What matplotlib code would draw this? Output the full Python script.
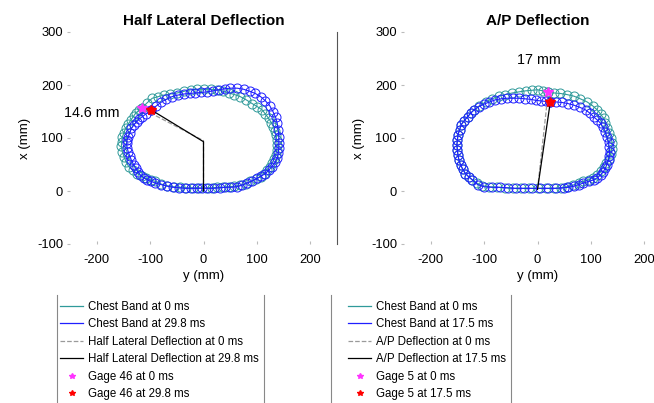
import matplotlib; matplotlib.use('Agg')
import matplotlib.pyplot as plt
from matplotlib.lines import Line2D
import numpy as np

plt.rcParams.update({'font.family': ['Liberation Sans', 'DejaVu Sans'], 'font.size': 8.3,
                     'axes.unicode_minus': False})

TEAL, BLUE, GRAYD, MAG, RED = '#2f9a9a', '#1f1fff', '#9a9a9a', '#ff33ff', '#ff0000'

# ── chest band contours, (y, x) in mm ────────────────────────────────────────
hl_band0 = [(-116,156), (-106,166), (-96,175), (-85,178), (-74,181), (-62,183), (-49,185),
            (-37,188), (-24,191), (-12,192), (1,192), (14,192), (26,191), (37,188), (47,185),
            (58,182), (69,178), (80,172), (91,165), (101,159), (110,153), (116,145), (122,137),
            (127,129), (131,121), (134,113), (136,106), (137,96), (138,87), (137,77), (135,68),
            (132,60), (128,52), (124,46), (119,40), (113,33), (107,27), (98,22), (88,18),
            (79,14), (69,11), (58,9), (47,8), (36,7), (26,7), (15,6), (4,6), (-8,6), (-20,6),
            (-32,6), (-44,7), (-56,8), (-68,10), (-79,13), (-90,18), (-99,21), (-108,24),
            (-116,28), (-124,33), (-132,39), (-140,46), (-145,55), (-149,65), (-152,74),
            (-154,84), (-153,93), (-152,102), (-149,110), (-146,118), (-141,126), (-136,134),
            (-131,141), (-127,147), (-121,152), (-116,156)]
hl_band1 = [(-98,153), (-89,160), (-80,167), (-70,173), (-59,178), (-48,181), (-37,183),
            (-26,184), (-15,185), (-4,186), (7,187), (18,189), (29,191), (40,193), (50,194),
            (63,194), (75,192), (87,188), (97,184), (107,178), (116,170), (124,161), (130,150),
            (135,139), (138,128), (140,115), (141,102), (141,91), (141,81), (140,71), (138,62),
            (134,54), (128,46), (122,39), (116,33), (108,28), (100,24), (91,19), (82,15),
            (72,11), (63,8), (52,7), (41,7), (30,6), (19,5), (8,5), (-2,5), (-13,5), (-24,5),
            (-35,5), (-46,6), (-57,7), (-68,9), (-79,12), (-90,15), (-98,18), (-105,21),
            (-112,25), (-118,30), (-123,36), (-127,43), (-131,50), (-135,58), (-138,66),
            (-141,74), (-143,82), (-144,90), (-143,96), (-141,102), (-138,110), (-135,118),
            (-130,125), (-125,131), (-120,136), (-115,140), (-107,146), (-98,153)]
ap_band0 = [(20,186), (31,185), (43,184), (55,182), (68,179), (80,174), (93,168), (103,161),
            (112,153), (118,145), (124,137), (127,128), (130,118), (134,109), (138,100),
            (140,90), (139,80), (137,70), (134,61), (129,53), (124,46), (118,38), (112,30),
            (104,25), (96,21), (86,18), (77,15), (66,11), (55,8), (44,6), (30,5), (15,5),
            (0,5), (-15,5), (-30,5), (-45,5), (-60,6), (-75,7), (-90,8), (-104,10), (-114,15),
            (-122,21), (-129,27), (-135,33), (-140,41), (-144,49), (-147,58), (-149,68),
            (-150,77), (-151,87), (-150,96), (-149,106), (-146,115), (-143,125), (-137,133),
            (-131,140), (-125,147), (-119,153), (-110,160), (-97,168), (-85,174), (-72,179),
            (-60,182), (-47,185), (-35,187), (-22,189), (-11,190), (0,191), (10,189), (20,186)]
ap_band1 = [(24,168), (35,168), (46,167), (57,165), (68,162), (79,158), (90,153), (98,147),
            (105,140), (112,134), (118,128), (123,120), (127,112), (130,102), (133,93),
            (134,83), (135,74), (134,66), (133,58), (130,50), (127,43), (123,36), (118,30),
            (112,25), (105,21), (96,18), (86,15), (77,12), (68,9), (58,7), (49,6), (34,5),
            (19,5), (4,5), (-11,5), (-26,5), (-41,5), (-56,6), (-71,7), (-86,7), (-100,8),
            (-112,12), (-122,21), (-129,27), (-135,33), (-140,41), (-144,49), (-147,58),
            (-149,68), (-150,77), (-151,87), (-150,96), (-149,106), (-146,115), (-143,125),
            (-137,133), (-131,140), (-125,147), (-119,153), (-110,159), (-100,164), (-90,168),
            (-79,172), (-68,174), (-57,175), (-46,175), (-35,175), (-24,174), (-13,173),
            (-3,171), (6,170), (15,169), (24,168)]

# deflection lines and gages
hl_defl0 = [(0,0), (0,95), (-116,156)]
hl_defl1 = [(0,0), (0,93), (-98,153)]
ap_defl0 = [(0,3), (20,186)]
ap_defl1 = [(0,3), (24,168)]
hl_gage = [(-116,156), (-98,153)]
ap_gage = [(20,186), (24,168)]
hl_text, ap_text = '14.6 mm', '17 mm'

panels = [
    dict(title='Half Lateral Deflection', bands=(hl_band0, hl_band1), defl=(hl_defl0, hl_defl1),
         gage=hl_gage, text=hl_text, tpos=(-157, 147), tha='right', t1='29.8',
         dname='Half Lateral Deflection', gname='Gage 46', left=70),
    dict(title='A/P Deflection', bands=(ap_band0, ap_band1), defl=(ap_defl0, ap_defl1),
         gage=ap_gage, text=ap_text, tpos=(2, 248), tha='center', t1='17.5',
         dname='A/P Deflection', gname='Gage 5', left=404),
]

W, H = 654, 403
fig = plt.figure(figsize=(W / 100, H / 100), dpi=100)

for i, p in enumerate(panels):
    ax = fig.add_axes([p['left'] / W, (H - 244) / H, 267 / W, 212 / H])
    for pts, c in zip(p['bands'], (TEAL, BLUE)):
        a = np.array(pts)
        ax.plot(a[:, 0], a[:, 1], '-', color=c, lw=0.8)
        ax.plot(a[:, 0], a[:, 1], 'o', mfc='none', mec=c, ms=6.5, mew=0.7)
    d0, d1 = np.array(p['defl'][0]), np.array(p['defl'][1])
    ax.plot(d0[:, 0], d0[:, 1], '--', color=GRAYD, lw=0.9)
    ax.plot(d1[:, 0], d1[:, 1], '-', color='black', lw=0.9)
    g = np.array(p['gage'])
    ax.plot(g[0, 0], g[0, 1], '*', color=MAG, ms=7)
    ax.plot(g[1, 0], g[1, 1], 'o', mfc=RED, mec=RED, ms=5, alpha=0.7)
    ax.plot(g[1, 0], g[1, 1], '*', color=RED, ms=7)
    ax.text(*p['tpos'], p['text'], ha=p['tha'], va='center', fontsize=10.3)

    ax.set_xlim(-250, 250)
    ax.set_ylim(-100, 300)
    ax.set_xticks([-200, -100, 0, 100, 200])
    ax.set_yticks([-100, 0, 100, 200, 300])
    ax.tick_params(axis='y', direction='out', length=2, color='#bbbbbb', pad=3, labelsize=9.3)
    ax.tick_params(axis='x', direction='in', length=2, color='#bbbbbb', pad=7, labelsize=9.3)
    for s in ('top', 'bottom', 'left'):
        ax.spines[s].set_visible(False)
    if i == 0:
        ax.spines['right'].set_color('#555555')
        ax.spines['right'].set_linewidth(0.8)
    else:
        ax.spines['right'].set_visible(False)
    ax.set_title(p['title'], fontweight='bold', fontsize=11, pad=5)
    ax.set_xlabel('y (mm)', labelpad=3, fontsize=9.5)
    ax.set_ylabel('x (mm)', labelpad=4, fontsize=9.5)

    handles = [
        Line2D([], [], color=TEAL, lw=0.9),
        Line2D([], [], color=BLUE, lw=0.9),
        Line2D([], [], color=GRAYD, lw=0.9, ls='--'),
        Line2D([], [], color='black', lw=0.9),
        Line2D([], [], ls='none', marker='*', color=MAG, ms=4),
        Line2D([], [], ls='none', marker='*', color=RED, ms=4),
    ]
    labels = ['Chest Band at 0 ms', f'Chest Band at {p["t1"]} ms',
              f'{p["dname"]} at 0 ms', f'{p["dname"]} at {p["t1"]} ms',
              f'{p["gname"]} at 0 ms', f'{p["gname"]} at {p["t1"]} ms']
    lx = 60 if i == 0 else 348
    fig.legend(handles, labels, loc='upper left', bbox_to_anchor=(lx / W, 1 - 301 / H),
               frameon=False, borderpad=0, borderaxespad=0, handlelength=2.0,
               handletextpad=0.45, labelspacing=0.47, fontsize=8.3)

# legend box edges
for xe in (57, 264, 331, 511):
    fig.add_artist(Line2D([xe / W, xe / W], [0, 1 - 295 / H], transform=fig.transFigure,
                          color='#888888', lw=0.8))

fig.savefig('out.png', dpi=100)
